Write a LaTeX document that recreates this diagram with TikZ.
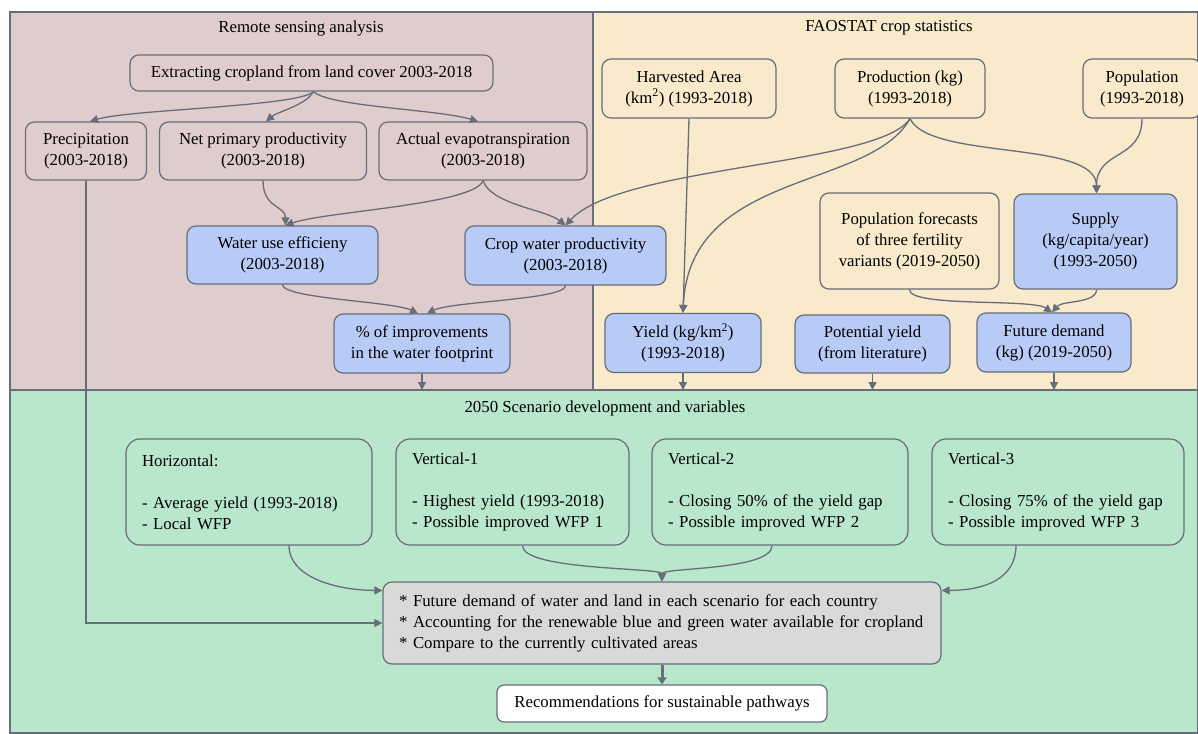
\documentclass[tikz,border=0pt]{standalone}
\usepackage{fontspec}
\setmainfont{Liberation Serif}
\usetikzlibrary{calc}
\usetikzlibrary{arrows.meta}

\definecolor{rsback}{RGB}{223,204,204}
\definecolor{faback}{RGB}{248,234,202}
\definecolor{scback}{RGB}{184,231,204}
\definecolor{resfill}{RGB}{183,203,246}
\definecolor{sumfill}{RGB}{217,217,217}
\definecolor{edge}{RGB}{104,109,124}

\begin{document}
\begin{tikzpicture}[x=1pt, y=-1pt]
		\tikzstyle{box} = [rectangle, draw=edge, line width=1.2pt, rounded corners=9pt, inner sep=0pt, align=center, font=\fontsize{16.8}{21}\selectfont]
		\tikzstyle{rsbox} = [box, fill=rsback]
		\tikzstyle{fabox} = [box, fill=faback]
		\tikzstyle{resbox} = [box, fill=resfill]
		\tikzstyle{scenbox} = [box, fill=scback, rounded corners=14pt, align=left, inner xsep=16pt, minimum height=106pt]
		\tikzstyle{panel} = [draw=edge, line width=1.2pt]
		\tikzstyle{title} = [inner sep=0pt, font=\fontsize{16.8}{21}\selectfont]
		\tikzstyle{link} = [draw=edge, line width=1.3pt, -{Triangle[length=8pt, width=8pt]}]
		
		\useasboundingbox (0,0) rectangle (1198,733);
		\fill [white] (0,0) rectangle (1198,733);
		
		\draw [panel, fill=rsback] (10,12) rectangle (593,390);
		\draw [panel, fill=faback] (593,12) rectangle (1198,390);
		\draw [panel, fill=scback] (10,390) rectangle (1198,733);
		
		\node [title] (Trs) at (301,28) {Remote sensing analysis};
		\node [title] (Tfa) at (889,28) {FAOSTAT crop statistics};
		\node [title] (Tsc) at (605,408) {2050 Scenario development and variables};
		
		\node [rsbox, minimum width=363pt, minimum height=36pt] (E) at (311.5,73) {Extracting cropland from land cover 2003-2018};
		\node [rsbox, minimum width=121pt, minimum height=58pt] (Pr) at (86,151) {Precipitation \\ (2003-2018)};
		\node [rsbox, minimum width=207pt, minimum height=58pt] (N) at (263,151) {Net primary productivity \\ (2003-2018)};
		\node [rsbox, minimum width=208pt, minimum height=58pt] (A) at (483,151) {Actual evapotranspiration \\ (2003-2018)};
		\node [resbox, minimum width=191pt, minimum height=58pt] (W) at (282.5,255) {Water use efficieny \\ (2003-2018)};
		\node [resbox, minimum width=201pt, minimum height=59pt] (C) at (565.5,255.5) {Crop water productivity \\ (2003-2018)};
		\node [resbox, minimum width=176pt, minimum height=59pt] (I) at (422,343.5) {\% of improvements \\ in the water footprint};
		
		\node [fabox, minimum width=174pt, minimum height=59pt] (H) at (689,88.5) {Harvested Area \\ (km\textsuperscript{2}) (1993-2018)};
		\node [fabox, minimum width=150pt, minimum height=59pt] (Pd) at (910,88.5) {Production (kg) \\ (1993-2018)};
		\node [fabox, minimum width=118pt, minimum height=59pt] (Pp) at (1142,88.5) {Population \\ (1993-2018)};
		\node [fabox, minimum width=179pt, minimum height=96pt] (Pf) at (909.5,241) {Population forecasts \\ of three fertility \\ variants (2019-2050)};
		\node [resbox, minimum width=163pt, minimum height=95pt] (S) at (1095.5,241.5) {Supply \\ (kg/capita/year) \\ (1993-2050)};
		\node [resbox, minimum width=156pt, minimum height=59pt] (Y) at (683,343) {Yield (kg/km\textsuperscript{2}) \\ (1993-2018)};
		\node [resbox, minimum width=155pt, minimum height=58pt] (Py) at (872.5,344) {Potential yield \\ (from literature)};
		\node [resbox, minimum width=154pt, minimum height=59pt] (D) at (1054,342.5) {Future demand \\ (kg) (2019-2050)};
		
		\node [scenbox, text width=214pt] (Hz) at (249,492) {Horizontal:\\[21pt]- Average yield (1993-2018)\\- Local WFP};
		\node [scenbox, text width=201pt] (V1) at (512.5,492) {Vertical-1\\[21pt]- Highest yield (1993-2018)\\- Possible improved WFP 1};
		\node [scenbox, text width=224pt] (V2) at (780,492) {Vertical-2\\[21pt]- Closing 50\% of the yield gap\\- Possible improved WFP 2};
		\node [scenbox, text width=220pt] (V3) at (1058,492) {Vertical-3\\[21pt]- Closing 75\% of the yield gap\\- Possible improved WFP 3};
		
		\node [box, fill=sumfill, align=left, inner xsep=16pt, text width=526pt, minimum height=82pt] (G) at (662,623) {{*} Future demand of water and land in each scenario for each country\\{*} Accounting for the renewable blue and green water available for cropland\\{*} Compare to the currently cultivated areas};
		\node [box, fill=white, rounded corners=7pt, minimum width=330pt, minimum height=37pt] (Rc) at (662,703.5) {Recommendations for sustainable pathways};
		
		\coordinate (Iin) at (I.south |- 0,390);
		\coordinate (Yin) at (Y.south |- 0,390);
		\coordinate (Pyin) at (Py.south |- 0,390);
		\coordinate (Din) at (D.south |- 0,390);
		
		\draw [link] ([xshift=2pt]E.south) .. controls +(-15,15) and +(40,-12) .. ([xshift=4pt]Pr.north);
		\draw [link] ([xshift=2pt]E.south) .. controls +(-8,14) and +(12,-10) .. ([xshift=3pt]N.north);
		\draw [link] ([xshift=2pt]E.south) .. controls +(15,15) and +(-40,-12) .. ([xshift=-5pt]A.north);
		
		\draw [link] (N.south) .. controls +(0,28) and +(0,-20) .. ([xshift=3pt]W.north);
		\draw [link] (A.south) .. controls +(-8,24) and +(40,-14) .. ([xshift=3pt]W.north);
		\draw [link] (A.south) .. controls +(8,24) and +(-20,-16) .. (C.north);
		\draw [link] (Pd.south) .. controls +(-30,47) and +(55,-60) .. (C.north);
		
		\draw [link] (W.south) .. controls +(0,14) and +(-25,-12) .. ([xshift=-4pt]I.north);
		\draw [link] (C.south) .. controls +(0,14) and +(25,-12) .. ([xshift=5pt]I.north);
		
		\draw [link] (H.south) -- (Y.north);
		\draw [link] (Pd.south) .. controls +(-40,72) and +(6,-143) .. (Y.north);
		\draw [link] (Pd.south) .. controls +(20,42) and +(0,-54) .. ([xshift=1pt]S.north);
		\draw [link] (Pp.south) .. controls +(0,42) and +(0,-44) .. ([xshift=1pt]S.north);
		
		\draw [link] (Pf.south) .. controls +(0,18) and +(-20,-14) .. ([xshift=-2pt]D.north);
		\draw [link] ([xshift=1pt]S.south) .. controls +(0,14) and +(10,-12) .. ([xshift=-2pt]D.north);
		
		\draw [link] (I.south) -- (Iin);
		\draw [link] (Y.south) -- (Yin);
		\draw [link] (Py.south) -- (Pyin);
		\draw [link] (D.south) -- (Din);
		
		\draw [link] ([xshift=40pt]Hz.south) .. controls +(0,32) and +(-45,0) .. ($(G.north west)+(0,9)$);
		\draw [link] ([xshift=10pt]V1.south) .. controls +(0,25) and +(0,-14) .. (G.north);
		\draw [link] ([xshift=-8pt]V2.south) .. controls +(0,25) and +(0,-14) .. (G.north);
		\draw [link] ([xshift=-42pt]V3.south) .. controls +(0,32) and +(45,0) .. ($(G.north east)+(0,9)$);
		\draw [link] (Pr.south) |- (G.west);
		
		\draw [draw=edge, line width=3pt, -{Triangle[length=7pt, width=9pt]}] (G.south) -- (Rc.north);
	\end{tikzpicture}
\end{document}
